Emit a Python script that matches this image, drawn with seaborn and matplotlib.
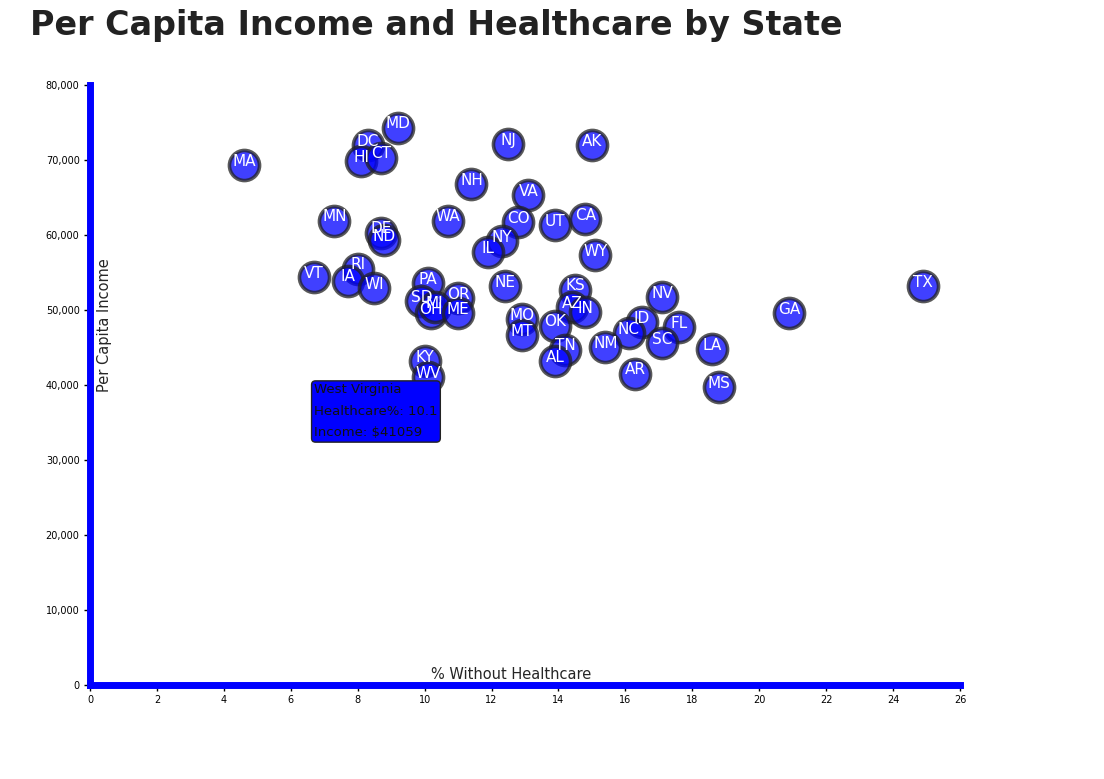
import matplotlib
matplotlib.use("Agg")
from matplotlib import pyplot as plt
import seaborn as sns
import pandas as pd

abbr = ['MA', 'MD', 'DC', 'HI', 'CT', 'NJ', 'AK', 'NH', 'VA', 'MN', 'WA', 'CO', 'UT', 'CA',
        'DE', 'ND', 'NY', 'IL', 'WY', 'VT', 'RI', 'IA', 'WI', 'PA', 'NE', 'KS', 'TX', 'SD',
        'OR', 'AZ', 'IN', 'OH', 'MI', 'ME', 'NV', 'GA', 'MO', 'ID', 'FL', 'OK', 'NC', 'MT',
        'SC', 'NM', 'TN', 'LA', 'AL', 'KY', 'AR', 'WV', 'MS']
healthcare = [4.6, 9.2, 8.3, 8.1, 8.7, 12.5, 15.0, 11.4, 13.1, 7.3, 10.7, 12.8, 13.9, 14.8,
              8.7, 8.8, 12.3, 11.9, 15.1, 6.7, 8.0, 7.7, 8.5, 10.1, 12.4, 14.5, 24.9, 9.9,
              11.0, 14.4, 14.8, 10.2, 10.3, 11.0, 17.1, 20.9, 12.9, 16.5, 17.6, 13.9, 16.1, 12.9,
              17.1, 15.4, 14.2, 18.6, 13.9, 10.0, 16.3, 10.1, 18.8]
income = [69300, 74300, 72000, 69900, 70300, 72100, 72000, 66800, 65300, 61900, 61900, 61700, 61300, 62100,
          60300, 59300, 59200, 57700, 57300, 54400, 55500, 53900, 52900, 53600, 53200, 52700, 53200, 51200,
          51600, 50400, 49700, 49600, 50400, 49600, 51700, 49600, 48800, 48400, 47700, 47900, 46900, 46700,
          45600, 45100, 44700, 44800, 43200, 43200, 41500, 41059, 39700]

df = pd.DataFrame({'abbr': abbr, 'healthcare': healthcare, 'income': income})

sns.set_style('white')
fig = plt.figure(figsize=(11.04, 7.79), dpi=100)
ax = fig.add_axes([90 / 1104, 1 - 685 / 779, 870 / 1104, 600 / 779])

sns.scatterplot(data=df, x='healthcare', y='income', ax=ax, s=470, color='#0000ff', alpha=0.75,
                edgecolor='#222222', linewidth=2.6, legend=False, zorder=3)
for a, hx, iy in zip(abbr, healthcare, income):
    ax.text(hx, iy + 500, a, color='white', ha='center', va='center', fontsize=11, zorder=4)

ax.set_xlim(0, 26)
ax.set_ylim(0, 80000)
ax.set_xticks(range(0, 27, 2))
ax.set_yticks(range(0, 80001, 10000))
ax.set_yticklabels(['{:,}'.format(v) for v in range(0, 80001, 10000)])
ax.tick_params(labelsize=7, length=4, width=1, direction='out', left=True, bottom=True, colors='black')
for side in ['left', 'bottom']:
    ax.spines[side].set_color('#0000ff')
    ax.spines[side].set_linewidth(5)
for side in ['top', 'right']:
    ax.spines[side].set_visible(False)
ax.set_xlabel('')
ax.set_ylabel('')
ax.text(0.484, 0.005, '% Without Healthcare', transform=ax.transAxes, ha='center', va='bottom', fontsize=10.5)
ax.text(0.008, 0.6, 'Per Capita Income', transform=ax.transAxes, rotation=90, ha='left', va='center', fontsize=10.5)

# tooltip
ax.text(6.7, 40200, 'West Virginia\nHealthcare%: 10.1\nIncome: $41059', ha='left', va='top',
        fontsize=9.5, linespacing=1.85, color='#111111', zorder=5,
        bbox=dict(boxstyle='round,pad=0.2,rounding_size=0.3', facecolor='#0000ff', edgecolor='#222222'))

fig.text(30 / 1104, 1 - 25 / 779, 'Per Capita Income and Healthcare by State', fontsize=24,
         fontweight='semibold', color='#222222', ha='left', va='center')

fig.savefig('out.png', dpi=100)
